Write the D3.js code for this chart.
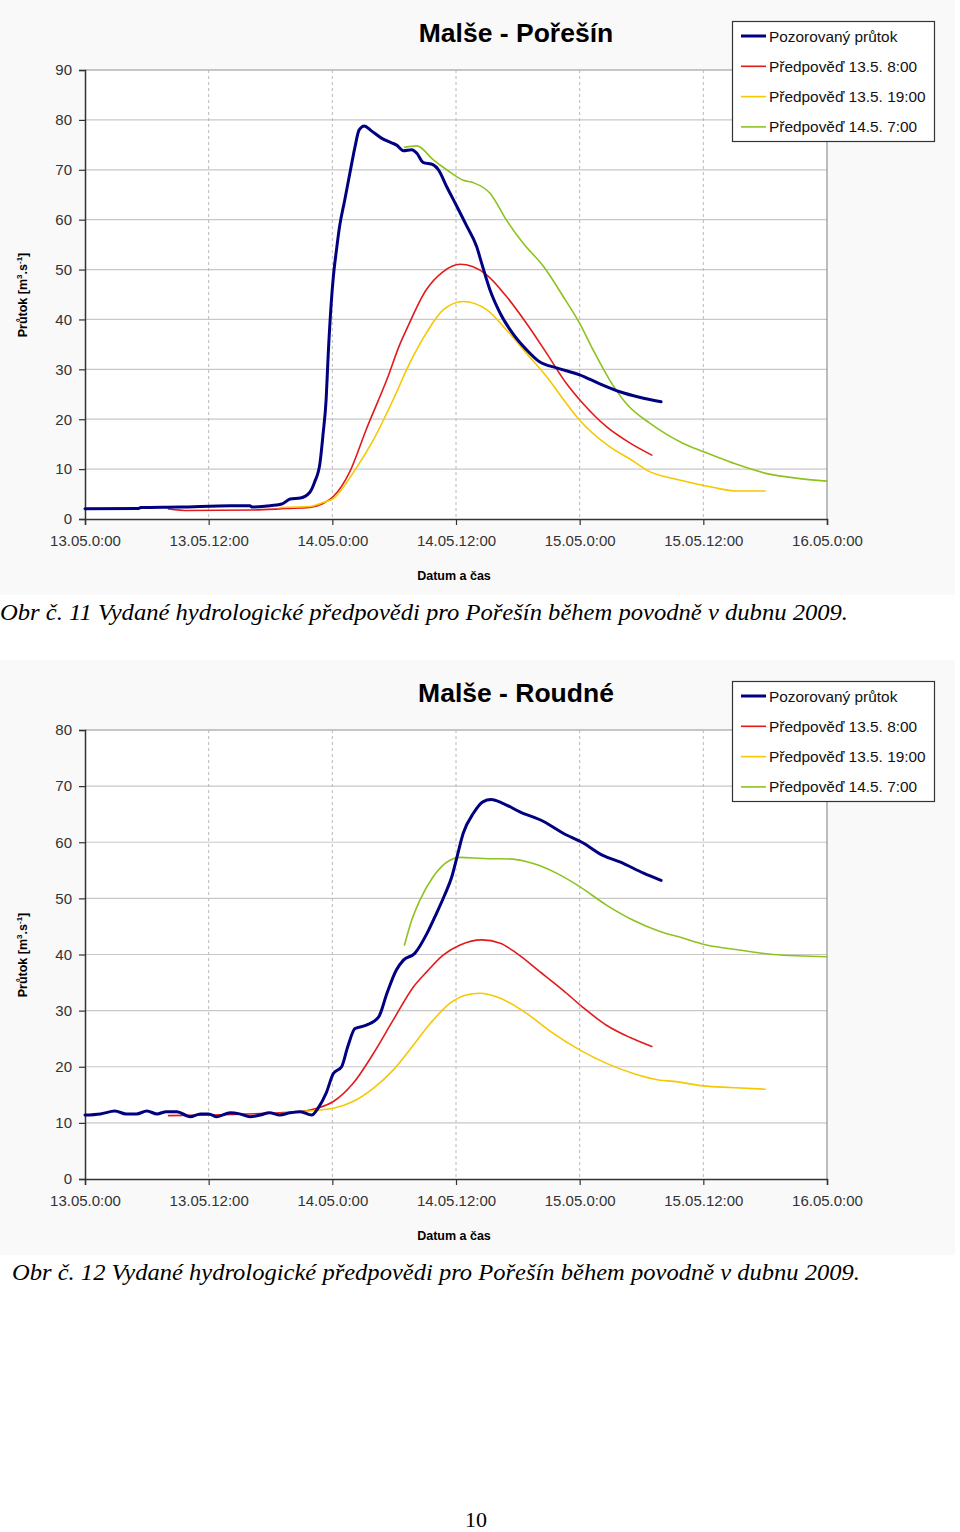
<!DOCTYPE html>
<html><head><meta charset="utf-8">
<script src="https://cdn.jsdelivr.net/npm/d3@7"></script>
<style>
body{margin:0;background:#fff;}
svg{display:block;}
</style></head>
<body>
<svg id="chart" width="960" height="1532"></svg>
<script>
// ---- DATA (hours since 13.05. 0:00, discharge m3/s) ----
const xTickHours = [0, 12, 24, 36, 48, 60, 72];
const xTickLabels = ["13.05.0:00","13.05.12:00","14.05.0:00","14.05.12:00","15.05.0:00","15.05.12:00","16.05.0:00"];
const seriesNames = ["Pozorovaný průtok","Předpověď 13.5. 8:00","Předpověď 13.5. 19:00","Předpověď 14.5. 7:00"];
const seriesColors = ["#000080","#e31a1c","#f5c800","#8dc21f"];

const poresinObserved = [[0,2.07],[5.2,2.1],[5.4,2.3],[9.2,2.4],[14.1,2.67],[16,2.67],[16.2,2.4],[17.6,2.6],[19.1,3.0],[19.9,4.0],[20.9,4.2],[21.8,5.3],[22.3,7.5],[22.8,11.2],[23.1,17],[23.4,24],[23.6,33],[23.9,43.5],[24.1,48.6],[24.4,53.9],[24.7,58.6],[25.2,63.9],[25.7,69.3],[26.2,74.6],[26.6,78],[27.1,78.8],[27.8,77.8],[28.8,76.3],[29.75,75.4],[30.2,75],[30.9,73.8],[31.7,74],[32.2,73.3],[32.8,71.5],[33.8,71],[34.3,70],[35.1,66.6],[36.1,62.6],[37.0,58.9],[38.0,54.6],[38.5,51.2],[39.3,45.9],[40.3,41.2],[41.5,37.2],[42.85,33.9],[44.1,31.5],[45.75,30.3],[48.0,28.9],[49.95,27.1],[51.9,25.5],[53.8,24.4],[55.9,23.5]];
const poresinF1 = [[8.1,2.0],[10,1.7],[16.3,1.8],[19.6,2.1],[21.8,2.3],[23.1,3.1],[24.1,4.5],[25.7,9.5],[27.3,18],[29.3,28],[30.55,35],[31.2,38],[33.1,45.9],[34.7,49.5],[36.4,51.05],[37.6,50.6],[39.0,48.9],[40.9,44.6],[42.85,39.2],[44.8,33.2],[46.7,27.2],[48.3,23.2],[50.6,18.5],[52.9,15.2],[55.0,12.8]];
const poresinF2 = [[18.9,2.3],[21.8,2.5],[23.1,3.3],[24.1,4.1],[26.0,9.2],[27.97,15.8],[29.9,23.9],[31.5,31.2],[33.1,37.2],[34.75,41.9],[36.7,43.6],[39.0,41.9],[40.9,37.9],[42.85,33.2],[44.8,28.5],[46.7,23.2],[48.0,19.8],[50.9,14.5],[53.2,11.6],[54.5,9.8],[57.7,7.8],[60.9,6.35],[63.2,5.6],[66.0,5.6]];
const poresinF3 = [[31.0,74.5],[32.2,74.8],[33.8,72.0],[35.1,70],[36.7,67.9],[37.7,67.4],[39.3,65.3],[40.9,59.9],[42.5,55.3],[44.5,50.6],[46.4,44.6],[48,39.2],[49.3,33.9],[50.9,27.9],[52.5,23.2],[54.8,19.2],[56.4,17.0],[58.0,15.2],[60,13.5],[62.9,11.2],[66.4,9.0],[69.0,8.2],[72,7.6]];

const roudneObserved = [[0,11.4],[1.5,11.6],[2.9,12.1],[4.0,11.6],[5.0,11.6],[6.0,12.1],[7.0,11.6],[7.9,12.0],[8.9,12.0],[10.2,11.1],[11.2,11.6],[12.0,11.6],[12.8,11.1],[14.1,11.8],[15.0,11.6],[16.0,11.1],[17.0,11.4],[17.9,11.8],[18.9,11.4],[19.9,11.8],[20.9,12.0],[22.0,11.4],[22.6,12.6],[23.4,15.3],[24.1,18.8],[24.9,20.0],[25.5,23.6],[26.2,26.8],[27.3,27.4],[28.5,28.9],[29.3,33.1],[30.2,37.2],[30.9,39.0],[32.0,40.2],[33.2,43.8],[34.1,47.3],[34.9,50.6],[35.6,53.9],[36.1,57.4],[36.7,61.6],[37.7,65.2],[38.6,67.2],[39.4,67.6],[40.6,66.9],[42.2,65.4],[44.5,63.7],[46.4,61.6],[48.3,59.9],[50.3,57.6],[51.9,56.5],[54.2,54.5],[55.9,53.2]];
const roudneF1 = [[8.1,11.3],[12,11.4],[17.6,11.7],[20.9,12.0],[22.5,12.6],[24.1,13.8],[26.0,17.0],[28.0,22.4],[29.9,28.3],[31.9,34.3],[33.2,37.0],[34.75,39.9],[36.4,41.7],[38.5,42.6],[40.3,42.0],[41.9,40.2],[44.1,37.0],[46.4,33.6],[48.3,30.6],[50.6,27.4],[52.9,25.2],[55.0,23.6]];
const roudneF2 = [[18.9,11.6],[20.9,12.0],[24.1,12.6],[26.0,13.8],[28.0,16.2],[29.9,19.4],[31.5,23.0],[33.5,27.7],[35.4,31.3],[37.0,32.8],[38.3,33.1],[40.3,32.2],[42.85,29.5],[45.4,26.0],[48,23.0],[50.6,20.6],[53.2,18.8],[55.8,17.6],[57.1,17.4],[60.0,16.6],[62.6,16.3],[66.0,16.0]];
const roudneF3 = [[31.0,41.7],[31.7,46.1],[32.5,49.7],[33.8,53.9],[35.4,56.8],[36.4,57.3],[38.6,57.1],[41.5,57.0],[43.5,56.2],[45.75,54.5],[48,52.1],[50.6,48.8],[53.2,46.1],[55.8,44.1],[57.7,43.1],[60.3,41.7],[63.5,40.8],[66.8,40.0],[72,39.6]];

const charts = [
  {title:"Malše - Pořešín", yMax:90, top:0, series:[poresinObserved,poresinF1,poresinF2,poresinF3],
   caption:"Obr č. 11 Vydané hydrologické předpovědi pro Pořešín během povodně v dubnu 2009.", capX:0, capW:848},
  {title:"Malše - Roudné", yMax:80, top:660, series:[roudneObserved,roudneF1,roudneF2,roudneF3],
   caption:"Obr č. 12 Vydané hydrologické předpovědi pro Pořešín během povodně v dubnu 2009.", capX:12, capW:848}
];

const svg = d3.select("#chart");
const SANS = "'Liberation Sans', Arial, sans-serif";

charts.forEach(c => {
  const g = svg.append("g").attr("transform", `translate(0,${c.top})`);
  g.append("rect").attr("x",0).attr("y",0).attr("width",955).attr("height",595).attr("fill","#f9f9f9");
  const L=85, R=827, T=70, B=519;
  const x = d3.scaleLinear().domain([0,72]).range([L,R]);
  const y = d3.scaleLinear().domain([0,c.yMax]).range([B,T]);
  g.append("rect").attr("x",L).attr("y",T).attr("width",R-L).attr("height",B-T).attr("fill","#fff");
  // horizontal grid
  const yt = d3.range(10, c.yMax+1, 10);
  g.selectAll(".hg").data(yt).join("line").attr("x1",L).attr("x2",R)
    .attr("y1",d=>y(d)).attr("y2",d=>y(d)).attr("stroke", d=> d===c.yMax ? "#909090" : "#c8c8c8").attr("stroke-width",1.2);
  // vertical dashed grid
  g.selectAll(".vg").data(xTickHours.slice(1,-1)).join("line").attr("x1",d=>x(d)).attr("x2",d=>x(d))
    .attr("y1",T).attr("y2",B).attr("stroke","#b8b8b8").attr("stroke-dasharray","3,3").attr("stroke-width",1);
  // right border
  g.append("line").attr("x1",R).attr("x2",R).attr("y1",T).attr("y2",B).attr("stroke","#909090").attr("stroke-width",1.2);
  // axes
  const yAxis = d3.axisLeft(y).tickValues(d3.range(0,c.yMax+1,10)).tickSize(6).tickPadding(7);
  const ya = g.append("g").attr("transform",`translate(${L},0)`).call(yAxis);
  const xAxis = d3.axisBottom(x).tickValues(xTickHours).tickFormat((d,i)=>xTickLabels[i]).tickSize(6).tickPadding(10);
  const xa = g.append("g").attr("transform",`translate(0,${B})`).call(xAxis);
  [ya,xa].forEach(a=>{
    a.select(".domain").attr("stroke","#333").attr("stroke-width",1.5);
    a.selectAll(".tick line").attr("stroke","#333").attr("stroke-width",1.2);
    a.selectAll("text").attr("font-family",SANS).attr("font-size",15).attr("fill","#333");
  });
  // lines
  const line = d3.line().x(d=>x(d[0])).y(d=>y(d[1])).curve(d3.curveMonotoneX);
  const order = [1,2,3,0];
  order.forEach(i=>{
    g.append("path").datum(c.series[i]).attr("d",line).attr("fill","none")
      .attr("stroke",seriesColors[i]).attr("stroke-width", i===0?3:1.6)
      .attr("stroke-linejoin","round").attr("stroke-linecap","round");
  });
  // title
  g.append("text").attr("x",516).attr("y",42).attr("text-anchor","middle")
    .attr("font-family",SANS).attr("font-weight","bold").attr("font-size",26.5).attr("fill","#000").text(c.title);
  // y label
  const yl = g.append("text").attr("transform","translate(27,295) rotate(-90)").attr("text-anchor","middle")
    .attr("font-family",SANS).attr("font-weight","bold").attr("font-size",12.5).attr("fill","#000");
  yl.append("tspan").text("Průtok [m");
  yl.append("tspan").attr("dy",-5).attr("font-size",8).text("3");
  yl.append("tspan").attr("dy",5).text(".s");
  yl.append("tspan").attr("dy",-5).attr("font-size",8).text("-1");
  yl.append("tspan").attr("dy",5).text("]");
  // x label
  g.append("text").attr("x",454).attr("y",580).attr("text-anchor","middle")
    .attr("font-family",SANS).attr("font-weight","bold").attr("font-size",12.5).attr("fill","#000").text("Datum a čas");
  // legend
  const lg = g.append("g");
  lg.append("rect").attr("x",732.5).attr("y",21.5).attr("width",202).attr("height",120)
    .attr("fill","#fff").attr("stroke","#333").attr("stroke-width",1.2);
  seriesNames.forEach((n,i)=>{
    const yy = 36 + i*30.3;
    lg.append("line").attr("x1",741).attr("x2",766).attr("y1",yy).attr("y2",yy)
      .attr("stroke",seriesColors[i]).attr("stroke-width", i===0?3:1.6);
    lg.append("text").attr("x",769).attr("y",yy+5.5).attr("font-family",SANS).attr("font-size",15.4)
      .attr("fill","#111").text(n);
  });
  // caption
  g.append("text").attr("x",c.capX).attr("y",620).attr("font-family","'Liberation Serif','Times New Roman',serif")
    .attr("font-style","italic").attr("font-size",24).attr("fill","#000")
    .attr("textLength",c.capW).attr("lengthAdjust","spacingAndGlyphs").text(c.caption);
});

svg.append("text").attr("x",476).attr("y",1527).attr("text-anchor","middle")
  .attr("font-family","'Liberation Serif','Times New Roman',serif").attr("font-size",22).attr("fill","#000").text("10");
</script>
</body></html>
